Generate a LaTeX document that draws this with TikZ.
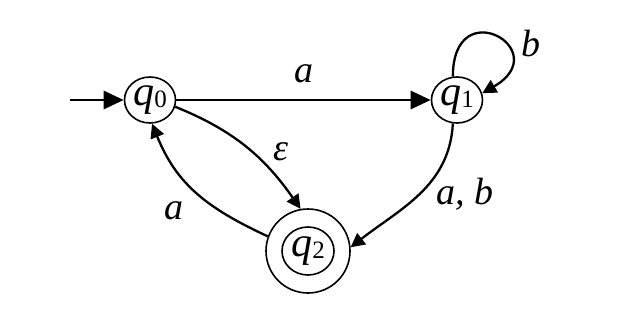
\documentclass[tikz,border=0pt]{standalone}
\usepackage{fontspec}
\setmainfont{Liberation Serif}
\usetikzlibrary{arrows.meta, shapes.geometric}

\newcommand{\stname}[1]{\textit{q}\kern0.2pt\raisebox{-1pt}{\upshape\fontsize{12.5}{13}\selectfont #1}}

\begin{document}
\begin{tikzpicture}[x=0.5pt, y=0.5pt,
        font=\fontsize{19}{22}\selectfont\itshape,
        state/.style={ellipse, draw, line width=0.8pt, minimum width=25.5pt, minimum height=23pt, inner sep=0pt,
            font=\fontsize{21}{24}\selectfont},
        accept/.style={circle, draw, line width=0.8pt, minimum size=42pt, inner sep=0pt,
            font=\fontsize{21}{24}\selectfont,
            path picture={\draw[line width=0.8pt] (path picture bounding box.center) ellipse (13pt and 12pt);}},
        trans/.style={line width=1.15pt, -{Triangle[length=7pt, width=7pt]}},
        mainarrow/.style={line width=1.4pt, -{Triangle[length=10pt, width=9pt]}},
        lbl/.style={inner sep=1pt}]
        \useasboundingbox (0,0) rectangle (626,312);

        % States
        \node (q0) [state] at (150,212) {\stname{0}};
        \node (q1) [state] at (457,212) {\stname{1}};
        \node (q2) [accept] at (308,61) {\stname{2}};
        \coordinate (init) at (70,212);

        % Transitions
        \draw[mainarrow] (init) -- (q0);
        \draw[mainarrow] (q0) -- (q1) node[midway, above=7pt, lbl] {a};
        \draw[trans] (q1.100) to[out=90, in=30, looseness=6.5] node[pos=0.55, right=9pt, yshift=-2pt, lbl] {b} (q1.15);
        \draw[trans] (q0.-15) to[out=-22, in=125] node[pos=0.55, right=9pt, lbl] {ε} (q2.100);
        \draw[trans] (q2.160) to[out=155, in=-68, looseness=1.05] node[pos=0.4, left=11pt, yshift=-4pt, lbl] {a} (q0.-85);
        \draw[trans] (q1.-100) to[out=-93, in=38] node[midway, right=7pt, lbl] {a, b} (q2.5);
    \end{tikzpicture}
\end{document}
